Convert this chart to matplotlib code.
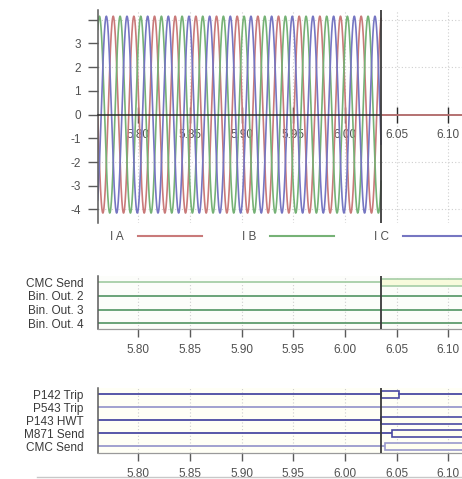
import numpy as np
import matplotlib
matplotlib.use("Agg")
import matplotlib.pyplot as plt
from matplotlib.patches import Rectangle
from matplotlib.lines import Line2D

plt.rcParams['font.family'] = ['Liberation Sans', 'DejaVu Sans']

# ---------------- data ----------------
phase_names = ['I A', 'I B', 'I C']
phase_colors = ['#c97a7a', '#76b276', '#7676c2']
phase_amplitude = [4.15, 4.15, 4.15]
phase_angle_deg = [0.0, -120.0, 120.0]
frequency_hz = 50.0
ia_peak_time = 5.7757
record_start = 5.7607
fault_time = 6.035
view_end = 6.1133

x_ticks = [5.80, 5.85, 5.90, 5.95, 6.00, 6.05, 6.10]
y_ticks = [-4, -3, -2, -1, 0, 1, 2, 3, 4]
y_tick_labels = ['-4', '-3', '-2', '-1', '0', '1', '2', '3', '']

bin_labels = ['CMC Send', 'Bin. Out. 2', 'Bin. Out. 3', 'Bin. Out. 4']
bin_colors = ['#a6cea6', '#5e9c6e', '#5e9c6e', '#5e9c6e']
bin_on = [6.035, None, None, None]
bin_off = [None, None, None, None]

relay_labels = ['P142 Trip', 'P543 Trip', 'P143 HWT', 'M871 Send', 'CMC Send']
relay_colors = ['#4a4aa2', '#9a9acd', '#4a4aa2', '#4a4aa2', '#9a9acd']
relay_on = [6.035, None, 6.035, 6.0459, 6.0389]
relay_off = [6.0524, None, None, None, None]

# ---------------- figure ----------------
fig = plt.figure(figsize=(4.62, 4.79), dpi=100)
txt_col = '#505050'
grid_kw = dict(color='#cfcfcf', linestyle=(0, (1, 2)), linewidth=0.8)

# ---- analog panel ----
ax = fig.add_axes([0.2115, 0.535, 0.7885, 0.444])
t = np.arange(record_start, fault_time, 0.0001)
for name, col, amp, ang in zip(phase_names, phase_colors, phase_amplitude, phase_angle_deg):
    y = amp * np.cos(2 * np.pi * frequency_hz * (t - ia_peak_time) + np.deg2rad(ang))
    ax.plot(t, y, color=col, lw=1.2, label=name, zorder=2)
ax.plot([fault_time, view_end + 0.05], [0, 0], color=phase_colors[0], lw=1.2, zorder=3)
ax.axvline(fault_time, color='#3a3a3a', lw=1.3, zorder=4)
ax.set_xlim(record_start, view_end)
ax.set_ylim(-4.56, 4.41)
ax.set_xticks(x_ticks)
ax.set_xticklabels(['%.2f' % v for v in x_ticks])
ax.set_yticks(y_ticks)
ax.set_yticklabels(y_tick_labels)
for v in x_ticks:
    ax.axvline(v, zorder=0, **grid_kw)
for v in [-4, -2, 2, 4]:
    ax.axhline(v, zorder=0, **grid_kw)
ax.spines['top'].set_visible(False)
ax.spines['right'].set_visible(False)
ax.spines['bottom'].set_position(('data', 0))
ax.spines['bottom'].set_color('#2a2a2a')
ax.spines['bottom'].set_linewidth(1.1)
ax.spines['left'].set_color('#5a5a5a')
ax.spines['left'].set_linewidth(1.1)
ax.tick_params(axis='x', direction='inout', length=12, width=1.0, color='#2a2a2a',
               labelsize=8.5, labelcolor=txt_col, pad=4.5)
ax.tick_params(axis='y', direction='out', length=7, width=1.0, color='#5a5a5a',
               labelsize=8.5, labelcolor=txt_col, pad=5)

handles = [Line2D([], [], color=c, lw=1.5) for c in phase_colors]
fig.legend(handles, phase_names, loc='center left', bbox_to_anchor=(0.238, 0.5052),
           ncol=3, markerfirst=False, frameon=False, handlelength=5.4,
           handletextpad=1.2, columnspacing=3.4, borderpad=0, borderaxespad=0,
           prop={'size': 8.5}, labelcolor=txt_col)


def digital_panel(rect, labels, colors, on, off, ylim, half, face, bg):
    a = fig.add_axes(rect)
    a.set_facecolor(bg)
    for i, (lab, col, t_on, t_off) in enumerate(zip(labels, colors, on, off)):
        if t_on is None:
            a.plot([record_start - 0.1, view_end + 0.1], [i, i], color=col, lw=1.3, zorder=2)
            continue
        a.plot([record_start - 0.1, t_on], [i, i], color=col, lw=1.3, zorder=2)
        end = t_off if t_off is not None else view_end + 0.1
        a.add_patch(Rectangle((t_on, i - half), end - t_on, 2 * half,
                              facecolor=face, edgecolor=col, lw=1.2, zorder=2))
        if t_off is not None:
            a.plot([t_off, view_end + 0.1], [i, i], color=col, lw=1.3, zorder=2)
    a.axvline(fault_time, color='#3a3a3a', lw=1.3, zorder=4)
    for v in x_ticks:
        a.axvline(v, zorder=0, **grid_kw)
    a.set_xlim(record_start, view_end)
    a.set_ylim(*ylim)
    a.set_yticks(range(len(labels)))
    a.set_yticklabels(labels)
    a.set_xticks(x_ticks)
    a.set_xticklabels(['%.2f' % v for v in x_ticks])
    a.spines['top'].set_visible(False)
    a.spines['right'].set_visible(False)
    a.spines['left'].set_color('#5a5a5a')
    a.spines['left'].set_linewidth(1.1)
    a.spines['bottom'].set_color('#9a9a9a')
    a.spines['bottom'].set_linewidth(0.9)
    a.tick_params(axis='y', length=0, pad=10, labelsize=8.5, labelcolor='#3a3a3a')
    a.tick_params(axis='x', direction='out', length=6, width=1.0, color='#5a5a5a',
                  labelsize=8.5, labelcolor=txt_col, pad=5)
    return a


digital_panel([0.2115, 0.3132, 0.7885, 0.1106], bin_labels, bin_colors, bin_on, bin_off,
              (3.42, -0.46), 0.24, '#f8fbdc', '#fcfdfa')
digital_panel([0.2115, 0.0543, 0.7885, 0.1357], relay_labels, relay_colors, relay_on, relay_off,
              (4.5, -0.48), 0.26, '#fffff0', '#fffff6')

fig.add_artist(Line2D([0.08, 1.0], [0.004, 0.004], color='#c8c8c8', lw=1.0,
                      transform=fig.transFigure))

fig.savefig('out.png', dpi=100, facecolor='white')
